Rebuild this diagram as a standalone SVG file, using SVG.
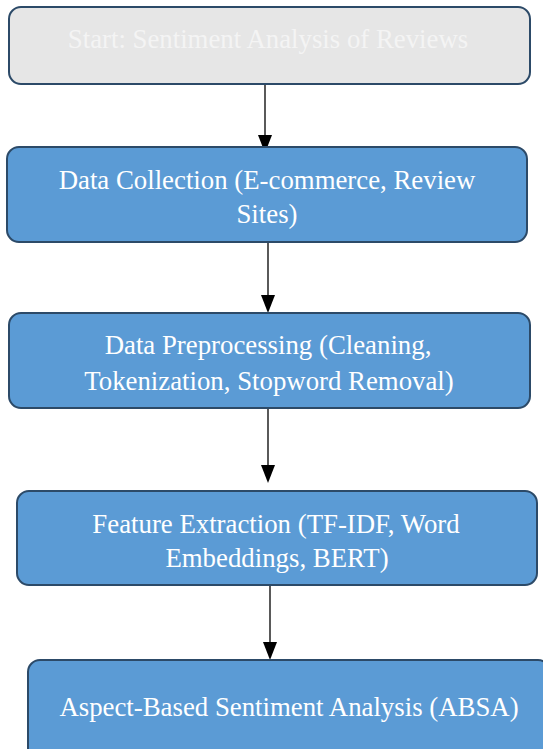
<svg xmlns="http://www.w3.org/2000/svg" width="543" height="749" viewBox="0 0 543 749">
<defs>
<style>
.box{fill:#5b9bd5;stroke:#2c4a68;stroke-width:2}
.start{fill:#e6e6e6;stroke:#2c4a68;stroke-width:2}
.t{font-family:"Liberation Serif","Times New Roman",serif;font-size:26.8px;fill:#ffffff;text-anchor:middle}
.ts{font-family:"Liberation Serif","Times New Roman",serif;font-size:26.8px;fill:#f4f4f4;text-anchor:middle}
.c{stroke:#000;stroke-width:1.3;fill:none}
</style>
</defs>
<rect width="543" height="749" fill="#fff"/>
<g id="connectors">
<line class="c" x1="265" y1="84" x2="265" y2="138"/>
<path d="M258,135 L272,135 L265,153 z" fill="#000"/>
<line class="c" x1="268" y1="242" x2="268" y2="298"/>
<path d="M261,295 L275,295 L268,313 z" fill="#000"/>
<line class="c" x1="268" y1="408" x2="268" y2="468"/>
<path d="M261,465 L275,465 L268,483 z" fill="#000"/>
<line class="c" x1="270" y1="585" x2="270" y2="645"/>
<path d="M263,642 L277,642 L270,660 z" fill="#000"/>
</g>
<g id="start">
<rect class="start" x="9" y="7" width="521" height="77" rx="12"/>
<text class="ts" x="268" y="48">Start: Sentiment Analysis of Reviews</text>
</g>
<g id="collection">
<rect class="box" x="7" y="147" width="520" height="95" rx="12"/>
<text class="t" x="267" y="188.5">Data Collection (E-commerce, Review</text>
<text class="t" x="267" y="223">Sites)</text>
</g>
<g id="preprocessing">
<rect class="box" x="9" y="313" width="521" height="95" rx="12"/>
<text class="t" x="268" y="354">Data Preprocessing (Cleaning,</text>
<text class="t" x="269" y="390">Tokenization, Stopword Removal)</text>
</g>
<g id="features">
<rect class="box" x="17" y="491" width="520" height="94" rx="12"/>
<text class="t" x="276" y="532.5">Feature Extraction (TF-IDF, Word</text>
<text class="t" x="277" y="567">Embeddings, BERT)</text>
</g>
<g id="absa">
<rect class="box" x="28" y="660" width="522" height="100" rx="12"/>
<text class="t" x="289" y="716">Aspect-Based Sentiment Analysis (ABSA)</text>
</g>
</svg>
